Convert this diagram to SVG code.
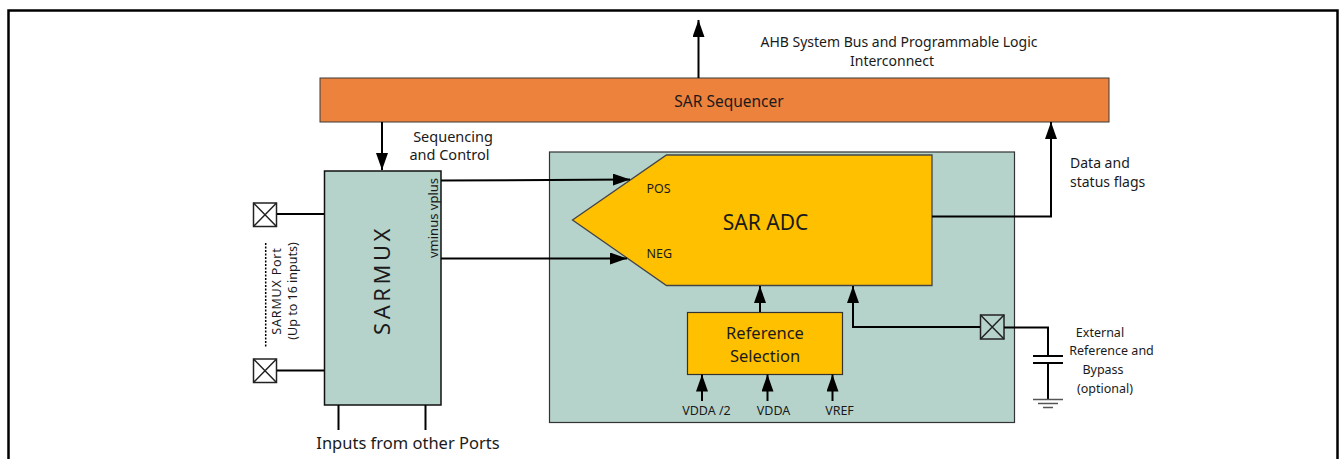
<svg xmlns="http://www.w3.org/2000/svg" width="1339" height="459" viewBox="0 0 1339 459">
<defs>
<marker id="ah" markerUnits="userSpaceOnUse" markerWidth="17" markerHeight="12" refX="17" refY="6" orient="auto">
<path d="M0,0 L17,6 L0,12 z" fill="#000"/>
</marker>
<style>
text{font-family:"Noto Sans","Liberation Sans",sans-serif;fill:#1a1a1a}
.c{stroke:#000;stroke-width:2;fill:none}
.a{marker-end:url(#ah)}
.mid{text-anchor:middle}
.port{fill:none;stroke:#222;stroke-width:1.5}
</style>
</defs>
<rect x="8.5" y="10.5" width="1329" height="460" fill="#fff" stroke="#000" stroke-width="2.5"/>

<g id="sequencer">
<rect x="320" y="78" width="789" height="44" fill="#ED823C" stroke="#3a3a3a" stroke-width="1"/>
<text class="mid" x="729" y="106.5" font-size="15.5">SAR Sequencer</text>
</g>

<g id="ahb-label">
<text class="mid" x="899" y="46.5" font-size="14">AHB System Bus and Programmable Logic</text>
<text class="mid" x="892" y="65.5" font-size="14">Interconnect</text>
</g>

<g id="seq-label">
<text class="mid" x="453" y="141.5" font-size="14.5">Sequencing</text>
<text class="mid" x="449.5" y="159.5" font-size="14.5">and Control</text>
</g>

<g id="data-label">
<text x="1070" y="167.5" font-size="14">Data and</text>
<text x="1070" y="186.5" font-size="14">status flags</text>
</g>

<g id="sarmux">
<rect x="324.5" y="171" width="116.5" height="234" fill="#B6D3CB" stroke="#111" stroke-width="1.5"/>
<text class="mid" transform="translate(390,280) rotate(-90)" font-size="22" letter-spacing="3.5">SARMUX</text>
<text class="mid" transform="translate(438,218) rotate(-90)" font-size="13">vminus  vplus</text>
</g>

<g id="port1"><rect class="port" x="253.5" y="203" width="23" height="23.5"/><path class="port" d="M253.5,203 L276.5,226.5 M276.5,203 L253.5,226.5"/></g>
<g id="port2"><rect class="port" x="253.5" y="359" width="23" height="23.5"/><path class="port" d="M253.5,359 L276.5,382.5 M276.5,359 L253.5,382.5"/></g>

<g id="sarmux-port-label">
<text class="mid" transform="translate(281,291) rotate(-90)" font-size="12.5" letter-spacing="0.8">SARMUX Port</text>
<text class="mid" transform="translate(297,291) rotate(-90)" font-size="12.5">(Up to 16 inputs)</text>
</g>

<g id="inputs-label">
<text class="mid" x="408" y="448.5" font-size="16.5">Inputs from other Ports</text>
</g>

<g id="adc-block">
<rect x="549.5" y="152" width="465" height="270.5" fill="#B6D3CB" stroke="#333" stroke-width="1.2"/>
</g>

<g id="sar-adc">
<polygon points="666.5,155 932,155 932,285.5 666.5,285.5 572.5,220" fill="#FFC000" stroke="#444" stroke-width="1.3"/>
<text x="646.5" y="192.5" font-size="12.5">POS</text>
<text x="646.5" y="257.5" font-size="12.5">NEG</text>
<text class="mid" x="765.5" y="230" font-size="21">SAR ADC</text>
</g>

<g id="reference-selection">
<rect x="687.5" y="312.5" width="155" height="62" fill="#FFC000" stroke="#333" stroke-width="1.2"/>
<text class="mid" x="765" y="338.5" font-size="16.5">Reference</text>
<text class="mid" x="765" y="361.5" font-size="16.5">Selection</text>
</g>

<g id="vref-labels">
<text class="mid" x="706.5" y="414.5" font-size="12.5">VDDA /2</text>
<text class="mid" x="773.5" y="414.5" font-size="12.5">VDDA</text>
<text class="mid" x="839.5" y="414.5" font-size="12.5">VREF</text>
</g>

<g id="port3"><rect class="port" x="980.5" y="315" width="23.5" height="24"/><path class="port" d="M980.5,315 L1004,339 M1004,315 L980.5,339"/></g>

<g id="ext-label">
<text class="mid" x="1100" y="336.5" font-size="12.5">External</text>
<text class="mid" x="1111.5" y="355" font-size="12.5">Reference and</text>
<text class="mid" x="1103" y="374" font-size="12.5">Bypass</text>
<text class="mid" x="1105" y="392.5" font-size="12.5">(optional)</text>
</g>

<g id="connectors">
<line class="c a" x1="698.5" y1="78" x2="698.5" y2="20"/>
<line class="c a" x1="382" y1="122" x2="382" y2="170"/>
<polyline class="c a" points="441,180.5 630,179.5"/>
<polyline class="c a" points="441,258.5 627,258.5"/>
<polyline class="c a" points="932,216.5 1051,216.5 1051,122"/>
<line class="c a" x1="760" y1="312" x2="760" y2="286"/>
<polyline class="c a" points="980,327 853,327 853,286"/>
<polyline class="c" points="1004,327.5 1048,327.5 1048,356"/>
<line class="c" x1="1048" y1="363" x2="1048" y2="399"/>
<line class="c" x1="1033" y1="356" x2="1063" y2="356"/>
<line class="c" x1="1033" y1="363" x2="1063" y2="363"/>
<g stroke="#555" stroke-width="1.5">
<line x1="1033" y1="399.5" x2="1063" y2="399.5"/>
<line x1="1038" y1="403.5" x2="1058" y2="403.5"/>
<line x1="1043" y1="407.5" x2="1053" y2="407.5"/>
</g>
<line class="c a" x1="702" y1="401" x2="702" y2="374.5"/>
<line class="c a" x1="767.5" y1="401" x2="767.5" y2="374.5"/>
<line class="c a" x1="832.5" y1="401" x2="832.5" y2="374.5"/>
<line class="c" x1="277" y1="214" x2="324" y2="214"/>
<line class="c" x1="277" y1="370.5" x2="324" y2="370.5"/>
<line class="c" x1="338.5" y1="405" x2="338.5" y2="430"/>
<line class="c" x1="425.5" y1="405" x2="425.5" y2="430"/>
<line x1="265.7" y1="243" x2="265.7" y2="348" stroke="#000" stroke-width="1.5" stroke-dasharray="2,1.5"/>
</g>
</svg>
